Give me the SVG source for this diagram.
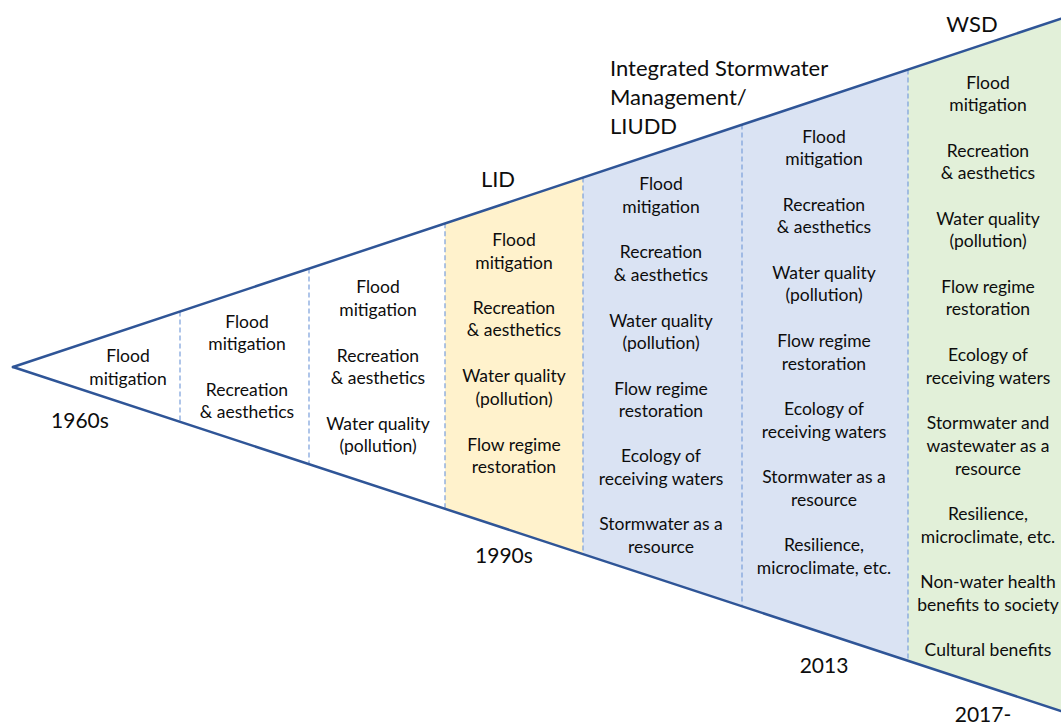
<svg xmlns="http://www.w3.org/2000/svg" width="1061" height="726" viewBox="0 0 1061 726">
  <style>
    text { font-family: Lato, "Open Sans", "Liberation Sans", sans-serif; fill: #0d0d0d; }
    .item { font-size: 17.5px; text-anchor: middle; }
    .era { font-size: 22px; }
    .year { font-size: 21px; text-anchor: middle; }
    .edge { fill: none; stroke: #2F5597; stroke-width: 2.5; stroke-linecap: round; }
    .divider { fill: none; stroke: #7A9FDB; stroke-width: 1.2; stroke-dasharray: 5 3; }
  </style>
  <rect width="1061" height="726" fill="#ffffff"/>

  <!-- shaded eras between the two edges -->
  <g id="bands">
    <polygon points="445,223.2 583,177.4 583,554.3 445,509.0" fill="#FFF2CC"/>
    <polygon points="583,177.4 908,69.5 908,660.9 583,554.3" fill="#DAE3F3"/>
    <polygon points="908,69.5 1061,18.7 1061,711 908,660.9" fill="#E2F0D9"/>
  </g>

  <!-- era dividers and the widening wedge -->
  <g id="connectors">
    <line class="divider" x1="180" y1="311.5" x2="180" y2="422.2"/>
    <line class="divider" x1="309" y1="268.6" x2="309" y2="464.6"/>
    <line class="divider" x1="445" y1="223.2" x2="445" y2="509.0"/>
    <line class="divider" x1="583" y1="177.4" x2="583" y2="554.3"/>
    <line class="divider" x1="742" y1="124.6" x2="742" y2="606.4"/>
    <line class="divider" x1="908" y1="69.5" x2="908" y2="660.9"/>
    <line class="edge" x1="13" y1="367" x2="1061" y2="18.7"/>
    <line class="edge" x1="13" y1="367" x2="1061" y2="711"/>
  </g>

  <g id="labels">
    <text class="year" x="80" y="428">1960s</text>
    <text class="year" x="504" y="563">1990s</text>
    <text class="year" x="824" y="673">2013</text>
    <text class="year" x="983" y="722">2017-</text>
    <text class="era" x="498" y="187" text-anchor="middle">LID</text>
    <text class="era" x="972" y="32" text-anchor="middle">WSD</text>
    <text class="era" x="610" y="76">Integrated Stormwater</text>
    <text class="era" x="610" y="105">Management/</text>
    <text class="era" x="610" y="134">LIUDD</text>
  </g>

  <g id="col-1960s">
    <text class="item" x="128" y="362">Flood</text>
    <text class="item" x="128" y="385">mitigation</text>
  </g>

  <g id="col-2">
    <text class="item" x="247" y="328">Flood</text>
    <text class="item" x="247" y="350">mitigation</text>
    <text class="item" x="247" y="396">Recreation</text>
    <text class="item" x="247" y="418">&amp; aesthetics</text>
  </g>

  <g id="col-3">
    <text class="item" x="378" y="293">Flood</text>
    <text class="item" x="378" y="316">mitigation</text>
    <text class="item" x="378" y="362">Recreation</text>
    <text class="item" x="378" y="384">&amp; aesthetics</text>
    <text class="item" x="378" y="430">Water quality</text>
    <text class="item" x="378" y="452">(pollution)</text>
  </g>

  <g id="col-lid">
    <text class="item" x="514" y="246">Flood</text>
    <text class="item" x="514" y="269">mitigation</text>
    <text class="item" x="514" y="314">Recreation</text>
    <text class="item" x="514" y="336">&amp; aesthetics</text>
    <text class="item" x="514" y="382">Water quality</text>
    <text class="item" x="514" y="405">(pollution)</text>
    <text class="item" x="514" y="451">Flow regime</text>
    <text class="item" x="514" y="473">restoration</text>
  </g>

  <g id="col-ism">
    <text class="item" x="661" y="190">Flood</text>
    <text class="item" x="661" y="213">mitigation</text>
    <text class="item" x="661" y="258">Recreation</text>
    <text class="item" x="661" y="281">&amp; aesthetics</text>
    <text class="item" x="661" y="327">Water quality</text>
    <text class="item" x="661" y="349">(pollution)</text>
    <text class="item" x="661" y="395">Flow regime</text>
    <text class="item" x="661" y="417">restoration</text>
    <text class="item" x="661" y="462">Ecology of</text>
    <text class="item" x="661" y="485">receiving waters</text>
    <text class="item" x="661" y="530">Stormwater as a</text>
    <text class="item" x="661" y="553">resource</text>
  </g>

  <g id="col-2013">
    <text class="item" x="824" y="143">Flood</text>
    <text class="item" x="824" y="165">mitigation</text>
    <text class="item" x="824" y="211">Recreation</text>
    <text class="item" x="824" y="233">&amp; aesthetics</text>
    <text class="item" x="824" y="279">Water quality</text>
    <text class="item" x="824" y="301">(pollution)</text>
    <text class="item" x="824" y="347">Flow regime</text>
    <text class="item" x="824" y="370">restoration</text>
    <text class="item" x="824" y="415">Ecology of</text>
    <text class="item" x="824" y="438">receiving waters</text>
    <text class="item" x="824" y="483">Stormwater as a</text>
    <text class="item" x="824" y="506">resource</text>
    <text class="item" x="824" y="551">Resilience,</text>
    <text class="item" x="824" y="574">microclimate, etc.</text>
  </g>

  <g id="col-wsd">
    <text class="item" x="988" y="89">Flood</text>
    <text class="item" x="988" y="111">mitigation</text>
    <text class="item" x="988" y="157">Recreation</text>
    <text class="item" x="988" y="179">&amp; aesthetics</text>
    <text class="item" x="988" y="225">Water quality</text>
    <text class="item" x="988" y="247">(pollution)</text>
    <text class="item" x="988" y="293">Flow regime</text>
    <text class="item" x="988" y="315">restoration</text>
    <text class="item" x="988" y="361">Ecology of</text>
    <text class="item" x="988" y="384">receiving waters</text>
    <text class="item" x="988" y="429">Stormwater and</text>
    <text class="item" x="988" y="452">wastewater as a</text>
    <text class="item" x="988" y="475">resource</text>
    <text class="item" x="988" y="520">Resilience,</text>
    <text class="item" x="988" y="543">microclimate, etc.</text>
    <text class="item" x="988" y="588">Non-water health</text>
    <text class="item" x="988" y="611">benefits to society</text>
    <text class="item" x="988" y="656">Cultural benefits</text>
  </g>
</svg>
